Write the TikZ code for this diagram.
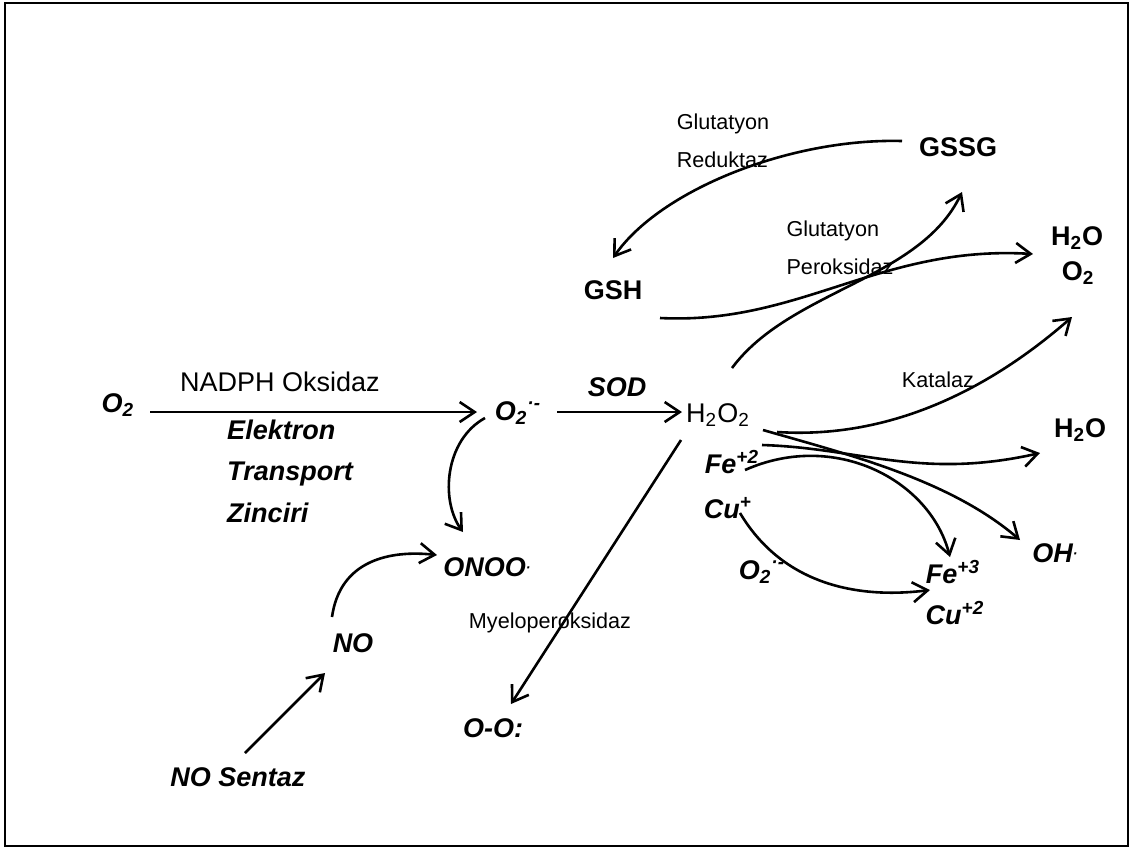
\documentclass[tikz,border=0pt]{standalone}
\usepackage{fontspec}
\setmainfont{Liberation Sans}
\usetikzlibrary{arrows.meta,calc}

\tikzset{
  spec/.style={font=\fontsize{13.5}{16}\selectfont\bfseries\itshape, inner sep=0pt},
  specup/.style={font=\fontsize{13.5}{16}\selectfont\bfseries, inner sep=0pt},
  big/.style={font=\fontsize{13.5}{16}\selectfont, inner sep=0pt},
  enz/.style={font=\fontsize{10.8}{18.75}\selectfont, align=left, inner sep=0pt},
  rxn/.style={-{Straight Barb[length=7.5pt,width=10pt]}, line width=1.3pt},
}
\newcommand{\raddot}{\raisebox{0.3ex}{\fontsize{7}{7}\selectfont·}}

\begin{document}
\begin{tikzpicture}[x=0.5pt,y=-0.5pt]
  \useasboundingbox (0,0) rectangle (1130,848);
  \draw[line width=1pt] (5,3) rectangle (1128,846);

  % species
  \node[spec] (o2a) at (118,405) {O\textsubscript{2}};
  \node[spec] (o2b) at (518,413) {O\textsubscript{2}\textsuperscript{·-}};
  \node[big] (h2o2) at (718,415) {H\textsubscript{2}O\textsubscript{2}};
  \node[spec] (fe2) at (732,462) {Fe\textsuperscript{+2}};
  \node[spec] (cu1) at (728,508) {Cu\textsuperscript{+}};
  \node[spec] (o2c) at (762,572) {O\textsubscript{2}\textsuperscript{·-}};
  \node[spec] (fe3) at (953,572) {Fe\textsuperscript{+3}};
  \node[spec] (cu2) at (955,613) {Cu\textsuperscript{+2}};
  \node[spec] (oh) at (1055,553) {OH\raddot};
  \node[specup] (h2oc) at (1080,430) {H\textsubscript{2}O};
  \node[specup] (h2oa) at (1077,238) {H\textsubscript{2}O};
  \node[specup] (o2d) at (1078,273) {O\textsubscript{2}};
  \node[specup] (gssg) at (958,147) {GSSG};
  \node[specup] (gsh) at (613,290) {GSH};
  \node[spec] (onoo) at (487,567) {ONOO\raddot};
  \node[spec] (no) at (353,643) {NO};
  \node[spec] (nos) at (238,777) {NO Sentaz};
  \node[spec] (oo) at (493,728) {O-O:};

  % enzymes
  \node[big] (nadph) at (280,382) {NADPH Oksidaz};
  \node[spec, align=left, font=\fontsize{13.5}{20.75}\selectfont\bfseries\itshape] (etz) at (290,471) {Elektron\\Transport\\Zinciri};
  \node[spec] (sod) at (617,387) {SOD};
  \node[enz] (glr) at (723,141) {Glutatyon\\Reduktaz};
  \node[enz] (glp) at (840,248) {Glutatyon\\Peroksidaz};
  \node[enz] (kat) at (938,380) {Katalaz};
  \node[enz] (mpo) at (550,623) {Myeloperoksidaz};

  % reactions
  \draw[rxn] ($(o2a)+(32,7)$) -- ($(o2b)+(-41,-1)$);
  \draw[rxn] ($(o2b)+(39,-1)$) -- ($(h2o2)+(-36,-3)$);
  \draw[rxn] ($(o2b)+(-33,5)$) .. controls (445,440) and (440,500) .. ($(onoo)+(-24,-35)$);
  \draw[rxn] ($(no)+(-21,-26)$) .. controls (340,560) and (390,550) .. ($(onoo)+(-50,-12)$);
  \draw[rxn] ($(nos)+(7,-24)$) -- ($(no)+(-28,30)$);
  \draw[rxn] ($(h2o2)+(-37,25)$) -- ($(oo)+(18,-24)$);
  \draw[rxn] ($(gssg)+(-56,-6)$) .. controls (790,138) and (660,190) .. ($(gsh)+(0,-32)$);
  \draw[rxn] ($(gsh)+(47,28)$) .. controls (800,325) and (880,245) .. ($(h2oa)+(-44,16)$);
  \draw[rxn] ($(h2o2)+(14,-47)$) .. controls (790,290) and (920,280) .. ($(gssg)+(4,45)$);
  \draw[rxn] ($(h2o2)+(59,17)$) .. controls (900,440) and (1000,380) .. ($(o2d)+(-6,44)$);
  \draw[rxn] ($(h2o2)+(44,30)$) .. controls (860,448) and (920,480) .. ($(h2oc)+(-40,23)$);
  \draw[rxn] ($(h2o2)+(45,15)$) .. controls (850,455) and (950,480) .. ($(oh)+(-35,-13)$);
  \draw[rxn] ($(fe2)+(13,8)$) .. controls (835,430) and (930,480) .. ($(fe3)+(-3,-15)$);
  \draw[rxn] ($(cu1)+(12,5)$) .. controls (780,580) and (850,600) .. ($(fe3)+(-23,18)$);
\end{tikzpicture}
\end{document}
